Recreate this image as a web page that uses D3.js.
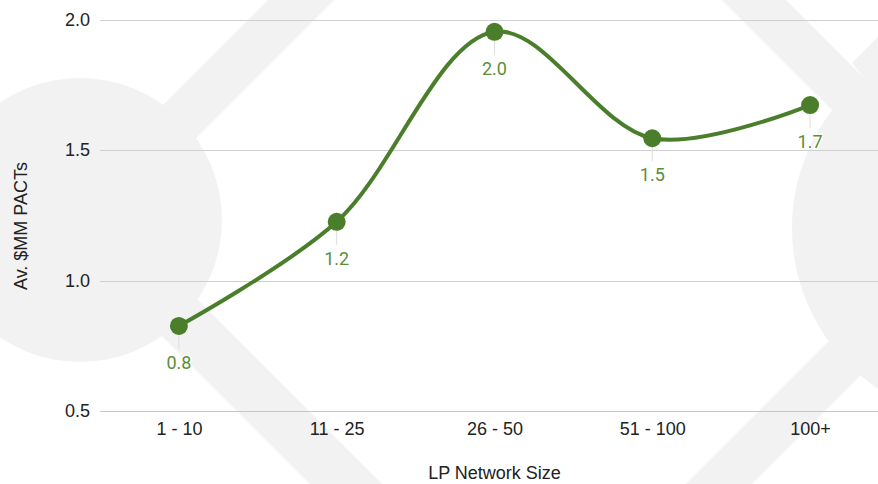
<!DOCTYPE html>
<html>
<head>
<meta charset="utf-8">
<script src="https://cdn.jsdelivr.net/npm/d3@7"></script>
<style>
  body { margin: 0; background: #fff; }
  svg { display: block; }
</style>
</head>
<body>
<div id="chart-area"></div>
<script>
// data
var categories = ["1 - 10", "11 - 25", "26 - 50", "51 - 100", "100+"];
var pacts = [0.826, 1.225, 1.953, 1.545, 1.672];
var yTicks = [0.5, 1.0, 1.5, 2.0];

var width = 878;
var height = 484;
var lineColor = "#4a7e2b";
var labelColor = "#5a8f36";
var wm = "#f2f2f2";

var svg = d3.select("#chart-area").append("svg")
    .attr("width", width)
    .attr("height", height);

// background watermark
var bg = svg.append("g");
bg.append("polygon").attr("points", "278,-10 344,-10 114,220 48,220").attr("fill", wm);
bg.append("polygon").attr("points", "46,220 118,220 392,494 320,494").attr("fill", wm);
bg.append("circle").attr("cx", 80).attr("cy", 220).attr("r", 142).attr("fill", wm);
bg.append("polygon").attr("points", "712,-10 776,-10 950,164 886,164").attr("fill", wm);
bg.append("polygon").attr("points", "852,63 940,-25 1100,-25 1100,300 985,228").attr("fill", wm);
bg.append("polygon").attr("points", "1000,170 1066,170 752,484 686,484").attr("fill", wm);
bg.append("circle").attr("cx", 985).attr("cy", 228).attr("r", 193).attr("fill", wm);

var x = d3.scalePoint().domain(categories).range([100, 889]).padding(0.5);
var y = d3.scaleLinear().domain([0.5, 2.0]).range([411, 19.5]);

// gridlines
svg.append("g").selectAll("line")
    .data(yTicks)
    .enter().append("line")
    .attr("x1", 100)
    .attr("x2", width)
    .attr("y1", (d) => Math.round(y(d)) + 0.5)
    .attr("y2", (d) => Math.round(y(d)) + 0.5)
    .attr("stroke", (d) => d === 0.5 ? "#c6c6c6" : "#cfcfcf")
    .attr("stroke-width", 1.2);

// y axis labels
var yAxis = d3.axisLeft(y).tickValues(yTicks).tickFormat(d3.format(".1f")).tickSize(0).tickPadding(0);
var yAxisGroup = svg.append("g")
    .attr("transform", "translate(90, 0)")
    .call(yAxis);
yAxisGroup.select(".domain").remove();
yAxisGroup.selectAll(".tick text")
    .attr("fill", "#222")
    .style("font-family", "'Liberation Sans', Arial, sans-serif")
    .style("font-size", "18px");

// x axis labels
var xAxis = d3.axisBottom(x).tickSize(0).tickPadding(0);
var xAxisGroup = svg.append("g")
    .attr("transform", "translate(0, 422)")
    .call(xAxis);
xAxisGroup.select(".domain").remove();
xAxisGroup.selectAll(".tick text")
    .attr("fill", "#222")
    .style("font-family", "'Liberation Sans', Arial, sans-serif")
    .style("font-size", "18px");

// axis titles
svg.append("text")
    .attr("x", 494.5)
    .attr("y", 479)
    .attr("text-anchor", "middle")
    .style("font-family", "'Liberation Sans', Arial, sans-serif")
    .style("font-size", "18px")
    .attr("fill", "#222")
    .text("LP Network Size");

svg.append("text")
    .attr("x", -226)
    .attr("y", 27)
    .attr("transform", "rotate(-90)")
    .attr("text-anchor", "middle")
    .style("font-family", "'Liberation Sans', Arial, sans-serif")
    .style("font-size", "18px")
    .attr("fill", "#222")
    .text("Av. $MM PACTs");

var data = categories.map((c, i) => ({ cat: c, value: pacts[i] }));

// leader lines
svg.append("g").selectAll("line")
    .data(data)
    .enter().append("line")
    .attr("x1", (d) => x(d.cat))
    .attr("x2", (d) => x(d.cat))
    .attr("y1", (d) => y(d.value))
    .attr("y2", (d) => y(d.value) + 23)
    .attr("stroke", "#dddddd")
    .attr("stroke-width", 1);

// line
var line = d3.line()
    .x((d) => x(d.cat))
    .y((d) => y(d.value))
    .curve(d3.curveCatmullRom.alpha(0.5));

svg.append("path")
    .datum(data)
    .attr("d", line)
    .attr("fill", "none")
    .attr("stroke", lineColor)
    .attr("stroke-width", 4);

// points
svg.append("g").selectAll("circle")
    .data(data)
    .enter().append("circle")
    .attr("cx", (d) => x(d.cat))
    .attr("cy", (d) => y(d.value))
    .attr("r", 9)
    .attr("fill", lineColor);

// value labels
svg.append("g").selectAll("text")
    .data(data)
    .enter().append("text")
    .attr("x", (d) => x(d.cat))
    .attr("y", (d) => y(d.value) + 43)
    .attr("text-anchor", "middle")
    .style("font-family", "Roboto, sans-serif")
    .style("font-size", "18px")
    .attr("fill", labelColor)
    .attr("stroke", "#fff")
    .attr("stroke-width", 3)
    .attr("paint-order", "stroke")
    .text((d) => d3.format(".1f")(d.value));
</script>
</body>
</html>
